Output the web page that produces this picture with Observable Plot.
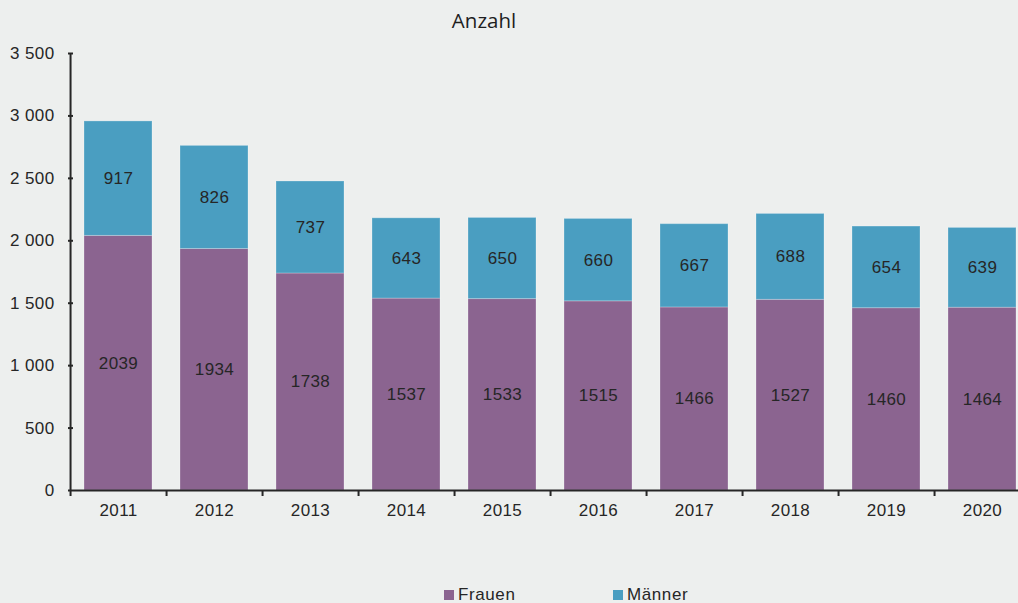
<!DOCTYPE html>
<html><head><meta charset="utf-8">
<script src="https://cdn.jsdelivr.net/npm/d3@7"></script>
<script src="https://cdn.jsdelivr.net/npm/@observablehq/plot@0.6"></script>
<style>
html,body{margin:0;padding:0;background:#edefee;}
#wrap{position:relative;width:1018px;height:603px;overflow:hidden;background:#edefee;font-family:"Liberation Sans",Arial,sans-serif;color:#262626;}
#title{position:absolute;left:0;width:968px;top:6px;text-align:center;font-family:"Open Sans",sans-serif;font-size:20.5px;color:#1e1e1e;}
#legend{position:absolute;top:585px;left:0;width:1018px;height:20px;font-size:17px;}
.li{position:absolute;top:0;display:flex;align-items:center;gap:4px;letter-spacing:0.6px;}
.sw{width:10px;height:10px;display:inline-block;}
svg{position:absolute;left:0;top:0;}
svg text{font-family:"Liberation Sans",Arial,sans-serif;letter-spacing:0.4px;}
</style></head>
<body><div id="wrap"><div id="title">Anzahl</div><div id="legend"></div></div>
<script>
const years = ["2011","2012","2013","2014","2015","2016","2017","2018","2019","2020"];
const frauen = [2039,1934,1738,1537,1533,1515,1466,1527,1460,1464];
const maenner = [917,826,737,643,650,660,667,688,654,639];
const series = ["Frauen","Männer"];
const colors = ["#8b6490","#4a9ec1"];
const yTicks = [0,500,1000,1500,2000,2500,3000,3500];

const data = [];
years.forEach((y,i)=>{ data.push({year:y, sex:"Frauen", value:frauen[i]}); });
years.forEach((y,i)=>{ data.push({year:y, sex:"Männer", value:maenner[i]}); });

const fmt = d3.formatLocale({decimal:",", thousands:" ", grouping:[3], currency:["",""]}).format(",");
const x0 = 73, x1 = 1032;
const step = (x1-x0)/years.length;
const FF = "Liberation Sans, Arial, sans-serif";
const ink = "#262626";

const chart = Plot.plot({
  width:1018, height:603,
  marginLeft:73, marginRight:0, marginTop:53, marginBottom:113,
  style:{background:"transparent", fontFamily:FF, fontSize:"17px", color:ink, overflow:"hidden"},
  x:{domain:years, range:[x0,x1], paddingInner:0.29, paddingOuter:0.135, align:0.4},
  y:{domain:[0,3500], range:[490,53]},
  color:{domain:series, range:colors},
  marks:[
    Plot.barY(data, {x:"year", y:"value", fill:"sex", stroke:"#ffffff", strokeOpacity:0.25, strokeWidth:1}),
    Plot.text(data, Plot.stackY({x:"year", y:"value", z:"sex", text:d=>String(d.value), fill:ink, fontSize:17, fontFamily:FF})),
    Plot.ruleY([0], {stroke:ink, strokeWidth:2}),
    Plot.ruleX([years[0]], {dx:-step/2, y1:0, y2:3500, stroke:ink, strokeWidth:2}),
    Plot.axisY({ticks:yTicks, tickFormat:fmt, tickSize:5, tickPadding:14, label:null, stroke:ink, strokeWidth:2, fill:ink, fontSize:17, fontFamily:FF}),
    Plot.axisX({tickSize:0, tickPadding:13, label:null, fill:ink, fontSize:17, fontFamily:FF}),
    Plot.axisX({tickSize:6, dx:-step/2, tickFormat:()=> "", label:null, stroke:ink, strokeWidth:2})
  ]
});
document.getElementById("wrap").appendChild(chart);

const leg = document.getElementById("legend");
const lx = [444, 613];
series.forEach((s,i)=>{
  const el = document.createElement("div");
  el.className="li"; el.style.left = lx[i]+"px";
  el.innerHTML = `<span class="sw" style="background:${colors[i]}"></span><span>${s}</span>`;
  leg.appendChild(el);
});
</script>
</body></html>
